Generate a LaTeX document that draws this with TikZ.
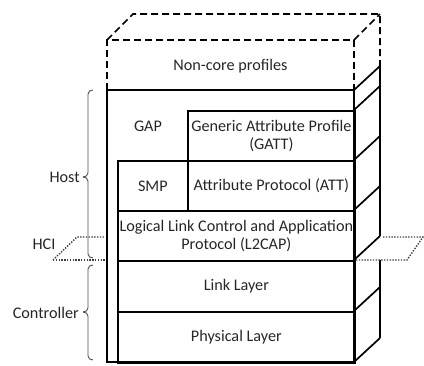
\documentclass[tikz,border=0pt]{standalone}
\usepackage{fontspec}
\setmainfont{Carlito}
\begin{document}
\begin{tikzpicture}[x=1pt,y=-1pt,
  txt/.style={text=black!85, font=\fontsize{16.2}{18.5}\selectfont, inner sep=0pt, align=center},
  boxline/.style={line width=1.7pt, draw=black},
  layer/.style={boxline, txt, minimum width=237pt, minimum height=50pt, anchor=north west},
  dsh/.style={line width=1.6pt, dash pattern=on 7pt off 4pt},
  dot/.style={line width=1.4pt, dash pattern=on 1.4pt off 1.4pt, draw=black!75},
  brc/.style={line width=0.9pt, draw=black!70}]
\useasboundingbox (0,0) rectangle (424,365);
% dashed non-core block
\draw[dsh] (107,90) -- (107,40) -- (354,40) -- (354,90);
\draw[dsh] (107,40) -- (133,14) -- (380,14) -- (380,66);
\draw[dsh] (354,40) -- (380,14);
\node[txt] (nc) at (230.5,66) {Non-core profiles};
% outer box
\draw[boxline] (107,90) rectangle (354,362);
\node[txt] (gap) at (148,126) {GAP};
\node[boxline, txt, minimum width=167pt, minimum height=50pt, anchor=north west] (gatt) at (187,110) {Generic Attribute Profile\\(GATT)};
\node[boxline, txt, minimum width=70pt, minimum height=50pt, anchor=north west] (smp) at (117,160) {SMP};
\node[boxline, txt, minimum width=167pt, minimum height=50pt, anchor=north west] (att) at (187,160) {Attribute Protocol (ATT)};
\node[layer] (l2cap) at (117,210) {Logical Link Control and Application\\Protocol (L2CAP)};
\node[layer, minimum height=51pt] (ll) at (117,260) {Link Layer};
\node[layer, minimum height=51pt] (phy) at (117,311) {Physical Layer};
% side face
\draw[boxline] (380,66) -- (380,236);
\draw[boxline] (380,260) -- (380,338);
\foreach \y in {90,110,160,210,260,311,362}{
  \draw[boxline] (354,\y) -- (380,\y-24);
}
% HCI plane
\draw[dot] (53,260) -- (106,260);
\draw[dot] (53,260) -- (77,237) -- (104,237);
\draw[dot] (356,260) -- (407,260) -- (423,237) -- (382,237);
% braces
\draw[brc] (93,90) to[out=180,in=90] (88,94) -- (88,173) to[out=-90,in=0] (83,177);
\draw[brc] (83,177) to[out=0,in=90] (88,181) -- (88,254) to[out=-90,in=180] (93,258);
\draw[brc] (93,265) to[out=180,in=90] (88,269) -- (88,308) to[out=-90,in=0] (83,312);
\draw[brc] (83,312) to[out=0,in=90] (88,316) -- (88,356) to[out=-90,in=180] (93,360);
\node[txt, anchor=east] (host) at (80,177) {Host};
\node[txt, anchor=east] (ctrl) at (79,313) {Controller};
\node[txt] (hci) at (44,244) {HCI};
\end{tikzpicture}
\end{document}
